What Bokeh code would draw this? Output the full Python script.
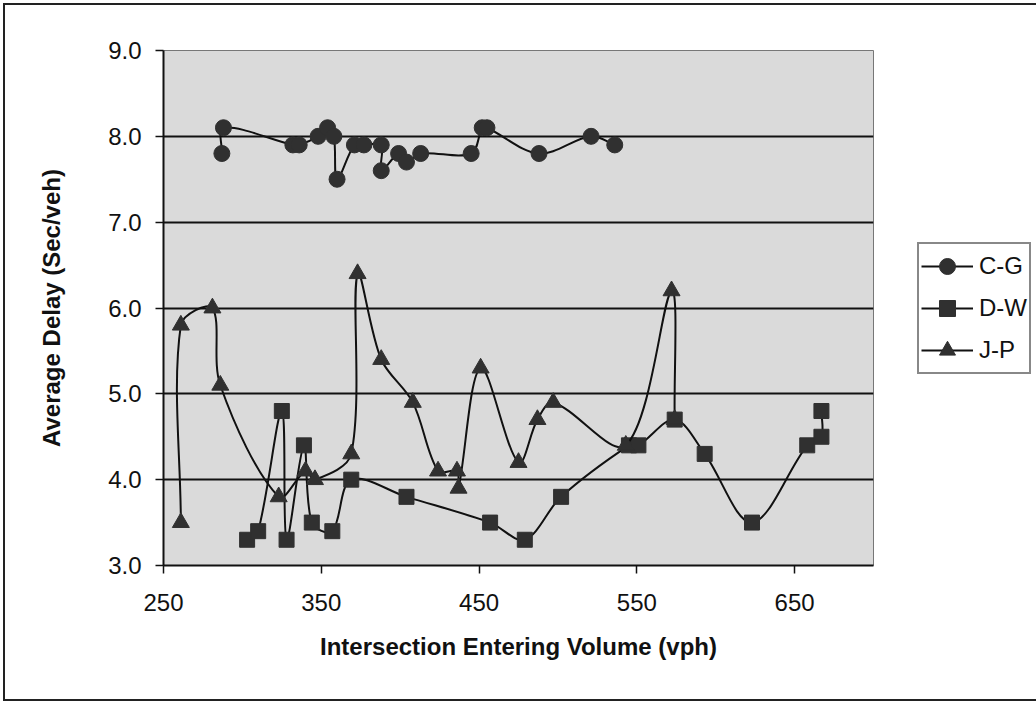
import numpy as np
from bokeh.plotting import figure
from bokeh.models import Range1d, FixedTicker, Legend, LegendItem, NumeralTickFormatter
from bokeh.embed import file_html
from bokeh.resources import INLINE

# ---- data ----
cg_volume = [287, 288, 332, 336, 348, 354, 358, 360, 371, 377, 388, 388, 399, 404, 413, 445, 452, 455, 488, 521, 536]
cg_delay = [7.8, 8.1, 7.9, 7.9, 8.0, 8.1, 8.0, 7.5, 7.9, 7.9, 7.9, 7.6, 7.8, 7.7, 7.8, 7.8, 8.1, 8.1, 7.8, 8.0, 7.9]

dw_volume = [303, 310, 325, 328, 339, 344, 357, 369, 404, 457, 479, 502, 545, 551, 574, 593, 623, 658, 667, 667]
dw_delay = [3.3, 3.4, 4.8, 3.3, 4.4, 3.5, 3.4, 4.0, 3.8, 3.5, 3.3, 3.8, 4.4, 4.4, 4.7, 4.3, 3.5, 4.4, 4.5, 4.8]

jp_volume = [261, 261, 281, 286, 323, 340, 346, 369, 373, 388, 408, 424, 436, 437, 451, 475, 487, 497, 543, 572, 574]
jp_delay = [3.5, 5.8, 6.0, 5.1, 3.8, 4.1, 4.0, 4.3, 6.4, 5.4, 4.9, 4.1, 4.1, 3.9, 5.3, 4.2, 4.7, 4.9, 4.4, 6.2, 4.7]

series_names = ["C-G", "D-W", "J-P"]
x_ticks = [250, 350, 450, 550, 650]
y_ticks = [3, 4, 5, 6, 7, 8, 9]
x_title = "Intersection Entering Volume (vph)"
y_title = "Average Delay (Sec/veh)"

X_MIN, X_MAX, Y_MIN, Y_MAX = 250, 700, 3, 9
FRAME_W, FRAME_H = 710, 515


def smooth_segments(xs, ys):
    """Bezier control points for a smoothed line (length-weighted tangents,
    measured in screen proportions)."""
    kx = FRAME_W / (X_MAX - X_MIN)
    ky = FRAME_H / (Y_MAX - Y_MIN)
    x = np.asarray(xs, float)
    y = np.asarray(ys, float)
    n = len(x)
    seg_len = np.hypot(np.diff(x) * kx, np.diff(y) * ky)
    tx = np.zeros(n)
    ty = np.zeros(n)
    for i in range(n):
        a = max(i - 1, 0)
        b = min(i + 1, n - 1)
        tx[i] = x[b] - x[a]
        ty[i] = y[b] - y[a]
    cx0, cy0, cx1, cy1 = [], [], [], []
    for i in range(n - 1):
        L = seg_len[i]
        Lp = seg_len[i - 1] if i > 0 else 0.0
        Ln = seg_len[i + 1] if i + 1 < n - 1 else 0.0
        w0 = L / (Lp + L) / 3.0 if (Lp + L) > 0 else 0.0
        w1 = L / (L + Ln) / 3.0 if (L + Ln) > 0 else 0.0
        cx0.append(x[i] + tx[i] * w0)
        cy0.append(y[i] + ty[i] * w0)
        cx1.append(x[i + 1] - tx[i + 1] * w1)
        cy1.append(y[i + 1] - ty[i + 1] * w1)
    return dict(x0=x[:-1], y0=y[:-1], x1=x[1:], y1=y[1:],
                cx0=cx0, cy0=cy0, cx1=cx1, cy1=cy1)


FONT = "Liberation Sans"

p = figure(
    frame_width=FRAME_W, frame_height=FRAME_H,
    min_border_left=158, min_border_right=160,
    min_border_top=45, min_border_bottom=134,
    x_range=Range1d(X_MIN, X_MAX), y_range=Range1d(Y_MIN, Y_MAX),
    output_backend="svg", toolbar_location=None,
)
p.styles = {"margin": "3px 0 0 3px",
            "border-left": "2px solid #222", "border-top": "2px solid #222",
            "border-bottom": "2px solid #222"}

p.background_fill_color = "#dadada"
p.border_fill_color = "white"
p.outline_line_color = "#777777"
p.outline_line_width = 1

p.xgrid.grid_line_color = None
p.ygrid.grid_line_color = "#111111"
p.ygrid.grid_line_width = 2

p.xaxis.ticker = FixedTicker(ticks=x_ticks)
p.yaxis.ticker = FixedTicker(ticks=y_ticks)
p.yaxis.formatter = NumeralTickFormatter(format="0.0")

for ax in (p.xaxis, p.yaxis):
    ax.axis_line_color = "#111111"
    ax.axis_line_width = 2
    ax.major_tick_line_color = "#111111"
    ax.major_tick_line_width = 1.5
    ax.major_tick_in = 0
    ax.major_tick_out = 8
    ax.minor_tick_line_color = None
    ax.major_label_text_font = FONT
    ax.major_label_text_font_size = "24px"
    ax.major_label_text_color = "#111111"
    ax.axis_label_text_font = FONT
    ax.axis_label_text_font_size = "24px"
    ax.axis_label_text_font_style = "bold"
    ax.axis_label_text_color = "#111111"

p.xaxis.axis_label = x_title
p.yaxis.axis_label = y_title
p.xaxis.major_label_standoff = 20
p.xaxis.axis_label_standoff = 19
p.yaxis.major_label_standoff = 14
p.yaxis.axis_label_standoff = 40

LINE = "#111111"
MARK = "#303030"

items = []
specs = [
    (cg_volume, cg_delay, "circle", 16),
    (dw_volume, dw_delay, "square", 15),
    (jp_volume, jp_delay, "triangle", 17),
]
for name, (xs, ys, marker, size) in zip(series_names, specs):
    seg = smooth_segments(xs, ys)
    r_line = p.bezier(x0="x0", y0="y0", x1="x1", y1="y1", cx0="cx0", cy0="cy0",
                      cx1="cx1", cy1="cy1", source=seg,
                      line_color=LINE, line_width=2)
    r_mark = p.scatter(xs, ys, marker=marker, size=size,
                       fill_color=MARK, line_color=MARK, line_width=1)
    items.append(LegendItem(label=name, renderers=[r_line, r_mark]))

legend = Legend(items=items, location=(44, 191))
legend.label_text_font = FONT
legend.label_text_font_size = "24px"
legend.label_text_color = "#111111"
legend.glyph_width = 52
legend.glyph_height = 40
legend.label_height = 40
legend.spacing = 2
legend.padding = 2
legend.margin = 0
legend.label_standoff = 6
legend.border_line_color = "#111111"
legend.border_line_width = 2
legend.background_fill_color = "white"
legend.background_fill_alpha = 1
p.add_layout(legend, "right")

open("out.html", "w").write(file_html(p, INLINE))
